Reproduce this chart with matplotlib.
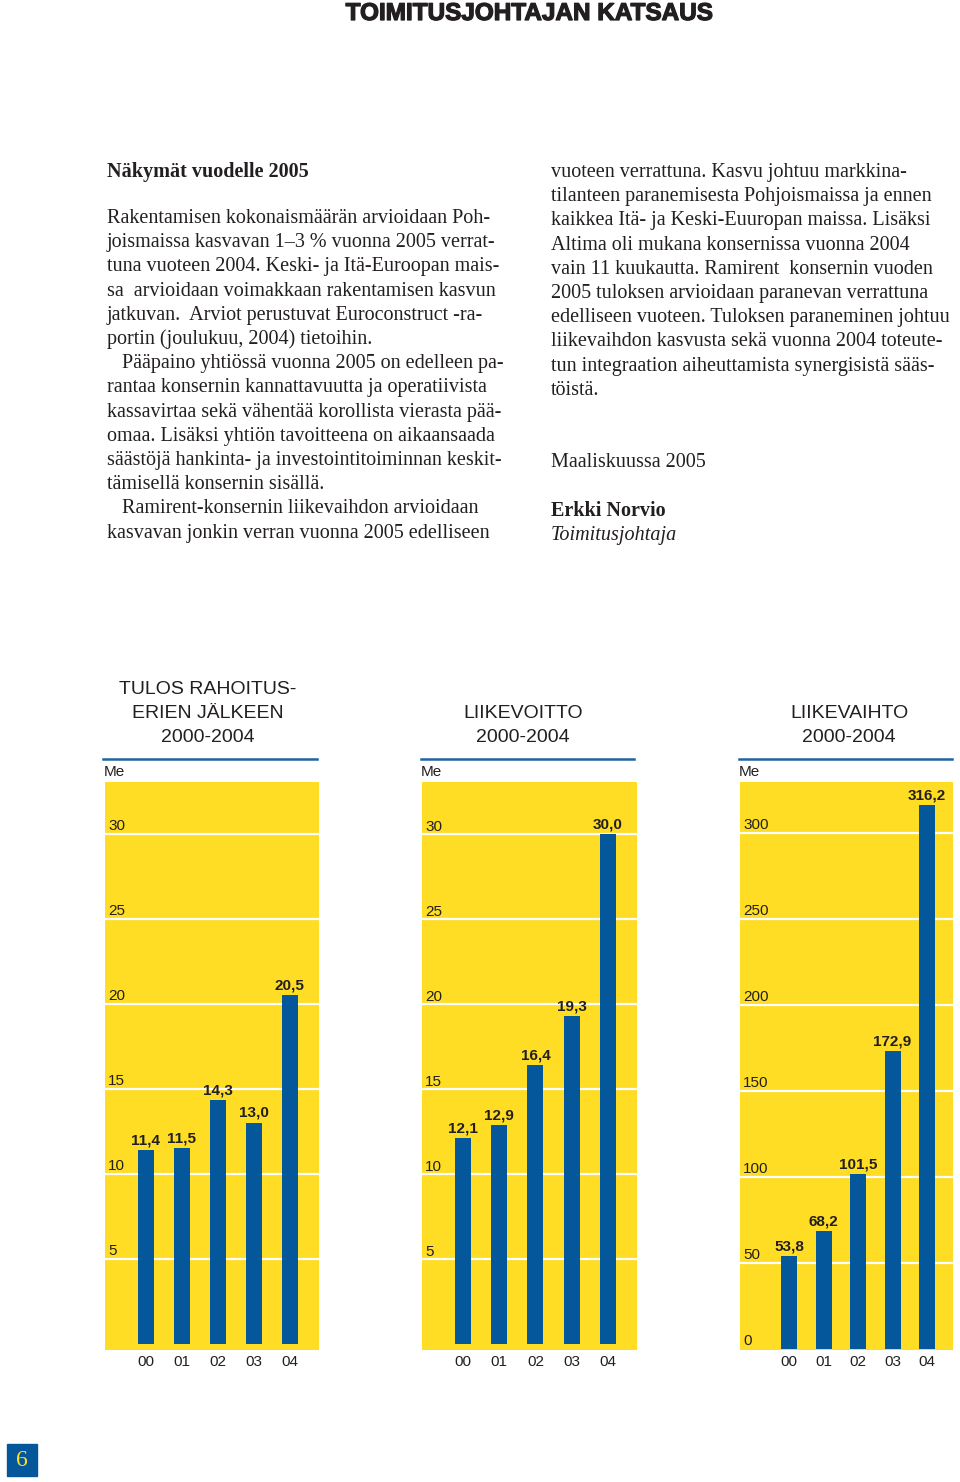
import matplotlib.pyplot as plt
import matplotlib.patheffects as pe
from matplotlib.patches import Rectangle

# page size in pixels (figure is drawn at 100 dpi)
W, H = 960, 1482


def fx(x):
    return x / W


def fy(y):
    return 1 - y / H


# chart data
years = ['00', '01', '02', '03', '04']
tulos = [11.4, 11.5, 14.3, 13.0, 20.5]
liikevoitto = [12.1, 12.9, 16.4, 19.3, 30.0]
liikevaihto = [53.8, 68.2, 101.5, 172.9, 316.2]

titles = ['TULOS RAHOITUS-\nERIEN JÄLKEEN\n2000-2004',
          'LIIKEVOITTO\n2000-2004',
          'LIIKEVAIHTO\n2000-2004']
ticks_small = [5, 10, 15, 20, 25, 30]
ticks_big = [0, 50, 100, 150, 200, 250, 300]

# body text, line by line (ragged right as in the original)
heading = 'Näkymät vuodelle 2005'
left_lines = [
    'Rakentamisen kokonaismäärän arvioidaan Poh-',
    'joismaissa kasvavan 1–3 % vuonna 2005 verrat-',
    'tuna vuoteen 2004. Keski- ja Itä-Euroopan mais-',
    'sa  arvioidaan voimakkaan rakentamisen kasvun',
    'jatkuvan.  Arviot perustuvat Euroconstruct -ra-',
    'portin (joulukuu, 2004) tietoihin.',
    '   Pääpaino yhtiössä vuonna 2005 on edelleen pa-',
    'rantaa konsernin kannattavuutta ja operatiivista',
    'kassavirtaa sekä vähentää korollista vierasta pää-',
    'omaa. Lisäksi yhtiön tavoitteena on aikaansaada',
    'säästöjä hankinta- ja investointitoiminnan keskit-',
    'tämisellä konsernin sisällä.',
    '   Ramirent-konsernin liikevaihdon arvioidaan',
    'kasvavan jonkin verran vuonna 2005 edelliseen',
]
right_lines = [
    'vuoteen verrattuna. Kasvu johtuu markkina-',
    'tilanteen paranemisesta Pohjoismaissa ja ennen',
    'kaikkea Itä- ja Keski-Euuropan maissa. Lisäksi',
    'Altima oli mukana konsernissa vuonna 2004',
    'vain 11 kuukautta. Ramirent  konsernin vuoden',
    '2005 tuloksen arvioidaan paranevan verrattuna',
    'edelliseen vuoteen. Tuloksen paraneminen johtuu',
    'liikevaihdon kasvusta sekä vuonna 2004 toteute-',
    'tun integraation aiheuttamista synergisistä sääs-',
    'töistä.',
]

YELLOW = '#fedd24'
BLUE = '#05579b'
LINE_BLUE = '#2063a3'
INK = '#231f20'

fig = plt.figure(figsize=(W / 100, H / 100), dpi=100)
fig.patch.set_facecolor('white')

serif = 'Liberation Serif'
sans = 'Liberation Sans'
body = 14.5

# page header
fig.text(fx(529), fy(13.5), 'TOIMITUSJOHTAJAN KATSAUS', family=sans,
         weight='bold', fontsize=17.5, color=INK, ha='center', va='center',
         path_effects=[pe.withStroke(linewidth=0.9, foreground=INK)])

# text columns
fig.text(fx(107), fy(172.5), heading, family=serif, weight='bold',
         fontsize=body, color=INK, va='center')
for i, line in enumerate(left_lines):
    fig.text(fx(107), fy(218.5 + i * 24.2), line, family=serif,
             fontsize=body, color=INK, va='center')
for i, line in enumerate(right_lines):
    fig.text(fx(551), fy(172.5 + i * 24.2), line, family=serif,
             fontsize=body, color=INK, va='center')
fig.text(fx(551), fy(462.5), 'Maaliskuussa 2005', family=serif,
         fontsize=body, color=INK, va='center')
fig.text(fx(551), fy(511.5), 'Erkki Norvio', family=serif, weight='bold',
         fontsize=body, color=INK, va='center')
fig.text(fx(551), fy(535.5), 'Toimitusjohtaja', family=serif, style='italic',
         fontsize=body, color=INK, va='center')

# chart panels: pixel box, zero line and px per unit (layout only)
panels = [
    dict(vals=tulos, ticks=ticks_small, x0=105, x1=319, c0=145.5, step=36.1,
         zero=1343.5, ppu=17.0, title_x=208, line=(103, 317)),
    dict(vals=liikevoitto, ticks=ticks_small, x0=422, x1=637, c0=463, step=36.2,
         zero=1344, ppu=17.0, title_x=523, line=(421, 634)),
    dict(vals=liikevaihto, ticks=ticks_big, x0=740, x1=953, c0=789, step=34.5,
         zero=1348.5, ppu=1.72, title_x=849, line=(739, 952)),
]
top, bottom = 782, 1350

for p, title in zip(panels, titles):
    ax = fig.add_axes([fx(p['x0']), fy(bottom), (p['x1'] - p['x0']) / W,
                       (bottom - top) / H])
    ax.set_facecolor(YELLOW)
    for s in ax.spines.values():
        s.set_visible(False)

    xs = list(range(len(years)))
    ax.set_xlim((p['x0'] - p['c0']) / p['step'], (p['x1'] - p['c0']) / p['step'])
    ax.set_ylim(-(bottom - p['zero']) / p['ppu'], (p['zero'] - top) / p['ppu'])

    for t in p['ticks']:
        if t > 0:
            ax.axhline(t, color='white', lw=1.6, zorder=1)
        ax.annotate(str(t), (0, t), xycoords=('axes fraction', 'data'),
                    xytext=(2.2, 2.4), textcoords='offset points',
                    family=sans, fontsize=11, color=INK, va='baseline')

    ax.bar(xs, p['vals'], width=16 / p['step'], color=BLUE, zorder=2)
    for x, v in zip(xs, p['vals']):
        ax.annotate(f'{v:.1f}'.replace('.', ','), (x, v), xytext=(0, 4),
                    textcoords='offset points', ha='center', va='baseline',
                    family=sans, weight='bold', fontsize=11, color=INK)

    ax.set_yticks([])
    ax.set_xticks(xs)
    ax.set_xticklabels(years, family=sans, fontsize=11, color=INK)
    ax.tick_params(axis='x', length=0, pad=3.8)

    # title lines, bottom line at y=737
    lines = title.split('\n')
    for k, txt in enumerate(reversed(lines)):
        fig.text(fx(p['title_x']), fy(737 - 24 * k), txt, family=sans,
                 fontsize=14, color=INK, ha='center', va='center')
    fig.add_artist(plt.Line2D([fx(p['line'][0]), fx(p['line'][1])],
                              [fy(759), fy(759)], color=LINE_BLUE, lw=1.8))
    fig.text(fx(p['x0'] - 1), fy(772), 'Me', family=sans, fontsize=11,
             color=INK, va='center')

# page number box
fig.add_artist(Rectangle((fx(7), fy(1476)), 30 / W, 32 / H, color=BLUE,
                         transform=fig.transFigure))
fig.text(fx(22), fy(1461), '6', family=serif, fontsize=17, color=YELLOW,
         ha='center', va='center')

fig.savefig('out.png', dpi=100)
